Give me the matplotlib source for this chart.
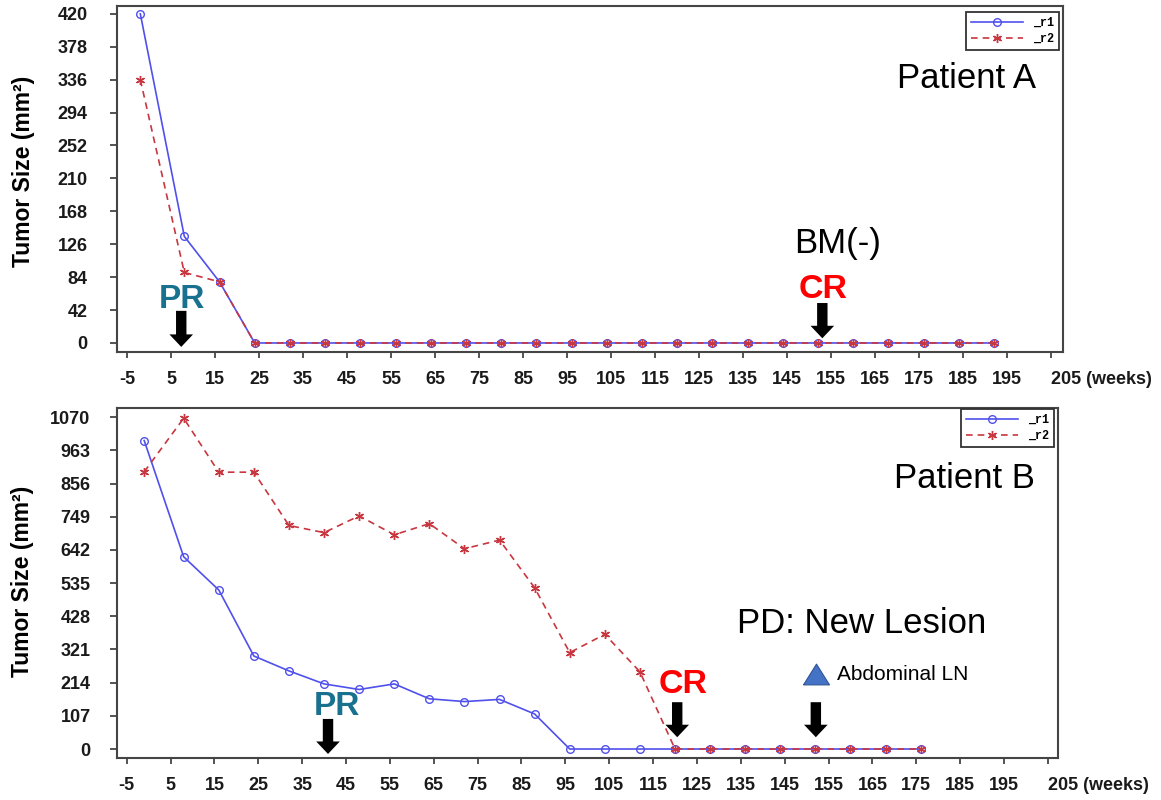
import matplotlib
matplotlib.use("Agg")
import matplotlib.pyplot as plt

plt.rcParams['font.family'] = ['Liberation Sans', 'DejaVu Sans']

# ---------------- data ----------------
weeks_a = [-2, 8, 16, 24, 32, 40, 48, 56, 64, 72, 80, 88, 96, 104, 112, 120,
           128, 136, 144, 152, 160, 168, 176, 184, 192]
r1_a = [420, 136, 78] + [0] * 22
r2_a = [336, 90, 78] + [0] * 22

weeks_b = [-1, 8, 16, 24, 32, 40, 48, 56, 64, 72, 80, 88, 96, 104, 112, 120,
           128, 136, 144, 152, 160, 168, 176]
r1_b = [995, 620, 513, 300, 252, 210, 192, 210, 162, 153, 160, 113,
        0, 0, 0, 0, 0, 0, 0, 0, 0, 0, 0]
r2_b = [894, 1067, 893, 893, 721, 698, 752, 691, 727, 646, 674, 520,
        311, 370, 249, 0, 0, 0, 0, 0, 0, 0, 0]

xticks = list(range(-5, 206, 10))
yticks_a = [0, 42, 84, 126, 168, 210, 252, 294, 336, 378, 420]
yticks_b = [0, 107, 214, 321, 428, 535, 642, 749, 856, 963, 1070]
series_labels = ['_r1', '_r2']

# ---------------- style ----------------
BLUE = '#5050EC'
RED = '#C8363F'
TEAL = '#18718F'
SPINE = '#454545'

fig = plt.figure(figsize=(11.61, 8.0), dpi=100)
ax1 = fig.add_axes([117 / 1161, 1 - 352 / 800, 946 / 1161, 346 / 800])
ax2 = fig.add_axes([117 / 1161, 1 - 758 / 800, 941 / 1161, 350 / 800])


def draw_series(ax, x, y1, y2):
    h1, = ax.plot(x, y1, color=BLUE, lw=1.2, marker='o', ms=5.5, mfc='none',
                  mec=BLUE, mew=1.0, zorder=3)
    h2, = ax.plot(x, y2, color=RED, lw=1.2, ls=(0, (4, 3)), marker=(6, 2, 0),
                  ms=6.5, mec=RED, mew=1.0, zorder=4)
    return h1, h2


def style_axes(ax, yticks, ylim, xlim, ypad):
    ax.set_xlim(*xlim)
    ax.set_ylim(*ylim)
    ax.set_xticks(xticks)
    labels = [str(t) for t in xticks]
    labels[-1] = '205 (weeks)'
    ax.set_xticklabels(labels)
    ax.set_yticks(yticks)
    ax.set_yticklabels([str(t) for t in yticks])
    for s in ax.spines.values():
        s.set_color(SPINE)
        s.set_linewidth(1.5)
    ax.tick_params(axis='x', direction='out', length=4, width=1.3, pad=10,
                   labelsize=13, colors=SPINE, labelcolor='#1a1a1a')
    ax.tick_params(axis='y', direction='out', length=5, width=1.3, pad=ypad,
                   labelsize=13, colors=SPINE, labelcolor='#1a1a1a')
    for lab in ax.get_xticklabels() + ax.get_yticklabels():
        lab.set_fontweight('bold')
    last = ax.get_xticklabels()[-1]
    last.set_horizontalalignment('left')


def down_arrow(ax, x, y_tail, y_tip):
    ax.annotate('', xy=(x, y_tip), xytext=(x, y_tail),
                arrowprops=dict(arrowstyle='simple,head_width=17,head_length=9,tail_width=7.5',
                                mutation_scale=1, fc='black', ec='black', lw=0,
                                shrinkA=0, shrinkB=0), zorder=6)


def add_legend(ax, handles, anchor):
    leg = ax.legend(handles, series_labels, loc='upper right', bbox_to_anchor=anchor,
                    borderaxespad=0, fancybox=False, framealpha=1, edgecolor='#333333',
                    prop={'family': 'Liberation Mono', 'size': 8.5, 'weight': 'bold'},
                    handlelength=4.4, handletextpad=0.9, labelspacing=0.35,
                    borderpad=0.4, markerscale=1.0)
    leg.get_frame().set_linewidth(1.3)


# ---------------- Patient A ----------------
h1, h2 = draw_series(ax1, weeks_a, r1_a, r2_a)
style_axes(ax1, yticks_a, (-11.5, 430), (-7.3, 207.7), 16)
add_legend(ax1, [h1, h2], (1 - 4 / 946, 1 - 6 / 346))

ax1.text(185.7, 325, 'Patient A', fontsize=25, ha='center', va='baseline')
ax1.text(156.4, 115, 'BM(-)', fontsize=25, ha='center', va='baseline')
ax1.text(153.2, 57, 'CR', fontsize=24.5, fontweight='bold', color='#FF0000',
         ha='center', va='baseline')
down_arrow(ax1, 153, 51, 6)
ax1.text(7.5, 44.5, 'PR', fontsize=24, fontweight='bold', color=TEAL,
         ha='center', va='baseline')
down_arrow(ax1, 7.3, 41, -5)

# ---------------- Patient B ----------------
h1, h2 = draw_series(ax2, weeks_b, r1_b, r2_b)
style_axes(ax2, yticks_b, (-29, 1100), (-7.2, 207.3), 14)
add_legend(ax2, [h1, h2], (1 - 4 / 941, 1 - 1 / 350))

ax2.text(186.0, 841, 'Patient B', fontsize=25, ha='center', va='baseline')
ax2.text(162.6, 373, 'PD: New Lesion', fontsize=25, ha='center', va='baseline')
ax2.plot([152.1], [243.5], linestyle='none',
         marker=[(-1, -0.8), (1, -0.8), (0, 0.8), (-1, -0.8)], ms=18.7,
         mfc='#4472C4', mec='#2F5597', mew=0.8, zorder=6)
ax2.text(156.9, 222.6, 'Abdominal LN', fontsize=15, ha='left', va='baseline')
ax2.text(121.8, 179.6, 'CR', fontsize=24.5, fontweight='bold', color='#FF0000',
         ha='center', va='baseline')
down_arrow(ax2, 120.5, 151, 38)
down_arrow(ax2, 152.1, 151, 38)
ax2.text(42.9, 109.7, 'PR', fontsize=24, fontweight='bold', color=TEAL,
         ha='center', va='baseline')
down_arrow(ax2, 40.9, 97, -16)

# y labels
fig.text(24 / 1161, 1 - 171 / 800, 'Tumor Size (mm²)', rotation=90, fontsize=16.5,
         fontweight='bold', ha='center', va='center')
fig.text(23 / 1161, 1 - 581 / 800, 'Tumor Size (mm²)', rotation=90, fontsize=16.5,
         fontweight='bold', ha='center', va='center')

fig.savefig('out.png', dpi=100)
